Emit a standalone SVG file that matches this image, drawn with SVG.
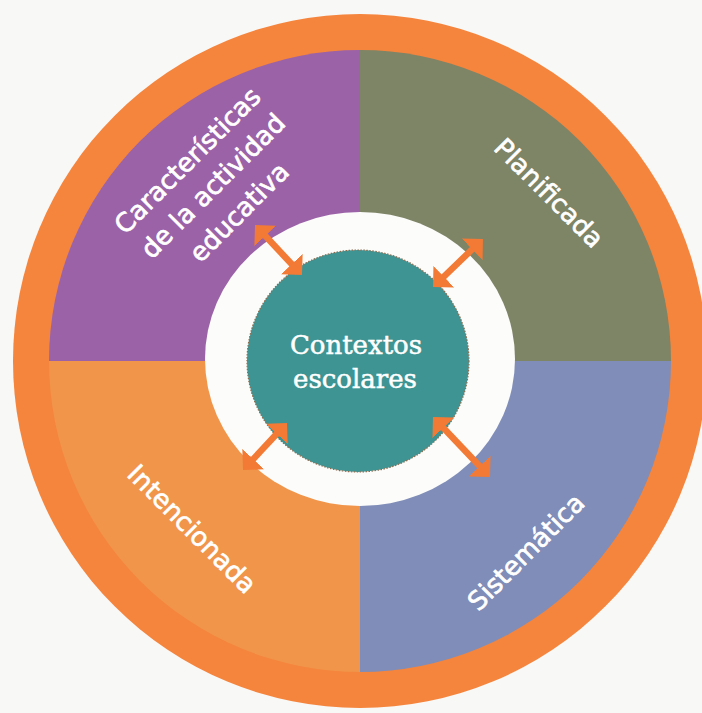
<svg xmlns="http://www.w3.org/2000/svg" width="702" height="713" viewBox="0 0 702 713">
  <style>
    .label { font-family: "DejaVu Sans", "Liberation Sans", sans-serif; font-size: 26px; fill: #ffffff; stroke: #ffffff; stroke-width: 0.7; text-anchor: middle; }
    .center-label { font-family: "DejaVu Serif", "Liberation Serif", serif; font-size: 26px; fill: #ffffff; stroke: #ffffff; stroke-width: 0.5; text-anchor: middle; }
    .arrow { fill: none; stroke: #F27A35; stroke-width: 6.5; marker-start: url(#head); marker-end: url(#head); }
  </style>
  <defs>
    <marker id="head" markerUnits="userSpaceOnUse" viewBox="0 0 15 30" refX="7" refY="15" markerWidth="15" markerHeight="30" orient="auto-start-reverse">
      <path d="M0,0 L15,15 L0,30 Z" fill="#F27A35"/>
    </marker>
  </defs>
  <rect x="0" y="0" width="702" height="713" fill="#F8F8F6"/>

  <g id="outer-ring">
    <circle cx="360" cy="361" r="347" fill="#F5843D"/>
  </g>

  <g id="caracteristicas">
    <path d="M360,361 L49,361 A311,311 0 0 1 360,50 Z" fill="#9B62A8"/>
    <g transform="translate(213,186) rotate(-45)">
      <text class="label" x="0" y="-27">Características</text>
      <text class="label" x="0" y="9">de la actividad</text>
      <text class="label" x="0" y="46">educativa</text>
    </g>
  </g>

  <g id="planificada">
    <path d="M360,361 L360,50 A311,311 0 0 1 671,361 Z" fill="#7E8466"/>
    <text class="label" transform="translate(549,193) rotate(45)" x="0" y="9">Planificada</text>
  </g>

  <g id="sistematica">
    <path d="M360,361 L671,361 A311,311 0 0 1 360,672 Z" fill="#7F8DB8"/>
    <text class="label" transform="translate(526,552) rotate(-45)" x="0" y="9">Sistemática</text>
  </g>

  <g id="intencionada">
    <path d="M360,361 L360,672 A311,311 0 0 1 49,361 Z" fill="#F0954A"/>
    <text class="label" transform="translate(192,529) rotate(45)" x="0" y="9">Intencionada</text>
  </g>

  <g id="white-ring">
    <ellipse cx="360" cy="359" rx="155" ry="147" fill="#FCFCFA"/>
  </g>

  <g id="contextos-escolares">
    <circle cx="358" cy="361" r="111" fill="#3E9493" stroke="#8C6B4E" stroke-width="1.2" stroke-dasharray="1.5 1.5"/>
    <text class="center-label" x="356" y="354">Contextos</text>
    <text class="center-label" x="355" y="388">escolares</text>
  </g>

  <g id="connectors">
    <path class="arrow" d="M260.5,230.8 L296.5,269.2"/>
    <path class="arrow" d="M477.2,244.5 L438.8,281.5"/>
    <path class="arrow" d="M248.5,464.2 L281.5,428.8"/>
    <path class="arrow" d="M484.5,471.2 L438.5,422.8"/>
  </g>
</svg>
